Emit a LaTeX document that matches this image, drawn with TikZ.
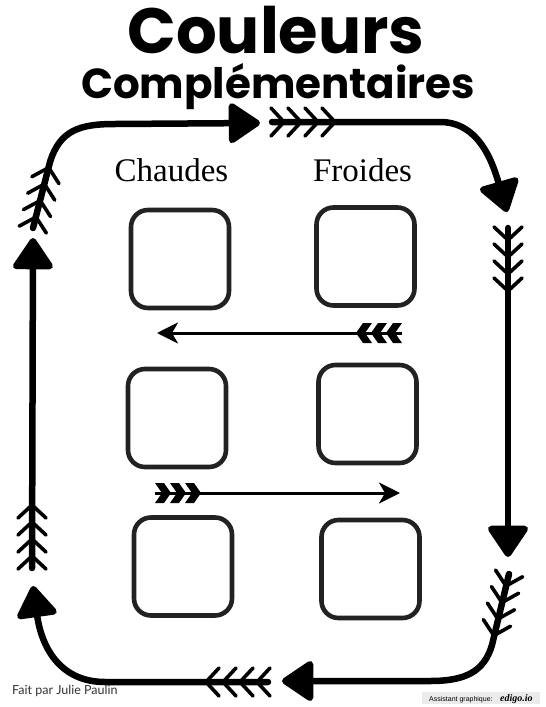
\documentclass[tikz,border=0pt]{standalone}
\usepackage{fontspec}
\setmainfont{Liberation Serif}
\newfontfamily\titlefont{Poppins}
\newfontfamily\latofont{Lato}
\newfontfamily\smallsans{Liberation Sans}
\usetikzlibrary{arrows.meta}
\definecolor{boxline}{HTML}{222222}
\definecolor{credit}{HTML}{333333}
\definecolor{badge}{HTML}{EBEBEB}
\tikzset{
  shaft/.style={line width=6.5pt, line cap=round, line join=round},
  bigtip/.style={-{Triangle[length=34pt,width=44pt,round]}},
  barb/.style={line width=3.6pt, line cap=round, line join=round},
  thinshaft/.style={line width=3pt},
  thintip/.style={-{Stealth[length=21pt,width=21pt,inset=6pt]}},
  cbox/.style={draw=boxline, line width=4.6pt, rounded corners=17pt, minimum width=98pt, minimum height=98pt, inner sep=0pt},
  fletch/.pic={
    \foreach \k in {0,1,2,3}{
      \draw[barb] ({\k*17-13},-14) -- ({\k*17},0) -- ({\k*17-13},14);
    }
  },
  chevrons/.pic={
    \foreach \k in {0,1,2}{
      \fill ({\k*15},-10) -- ({\k*15+9},-10) -- ({\k*15+16},0) -- ({\k*15+9},10) -- ({\k*15},10) -- ({\k*15+7},0) -- cycle;
    }
  }
}
\begin{document}
\begin{tikzpicture}[x=1pt,y=-1pt]
\useasboundingbox (0,0) rectangle (546,707);

% titles
\node[anchor=base, inner sep=0pt, text depth=0pt, font=\titlefont\bfseries\fontsize{64}{66}\selectfont] (t1) at (276,53) {Couleurs};
\node[anchor=base, inner sep=0pt, text height=30pt, font=\titlefont\bfseries\fontsize{42}{44}\selectfont] (t2) at (278,98) {Complémentaires};

\node[anchor=base, inner sep=0pt, font=\fontsize{33}{36}\selectfont] (chaudes) at (171.5,181) {Chaudes};
\node[anchor=base, inner sep=0pt, font=\fontsize{33}{36}\selectfont] (froides) at (362.5,181) {Froides};

% boxes
\node[cbox] (b1) at (180,259) {};
\node[cbox] (b2) at (365.5,256.5) {};
\node[cbox] (b3) at (177,418) {};
\node[cbox] (b4) at (367.5,414) {};
\node[cbox] (b5) at (183,566.5) {};
\node[cbox] (b6) at (370.5,569) {};

% inner arrows
\coordinate (ua) at (402,333);
\coordinate (ub) at (157,333);
\draw[thinshaft, thintip] (ua) -- (ub);
\pic[rotate=180] at (ua) {chevrons};
\coordinate (la) at (155,493);
\coordinate (lb) at (400,493);
\draw[thinshaft, thintip] (la) -- (lb);
\pic at (la) {chevrons};

% top-left arrow
\coordinate (tl0) at (33,228);
\coordinate (tl1) at (50,162);
\coordinate (tl2) at (115,124);
\coordinate (tl3) at (260,123);
\draw[shaft, bigtip] (tl0) -- (tl1) .. controls (60,130) and (80,124) .. (tl2) -- (tl3);
\pic[rotate=75.6] at (36,217) {fletch};

% top-right arrow
\coordinate (tr0) at (272,122);
\coordinate (tr1) at (440,122);
\coordinate (tr2) at (507,212);
\draw[shaft, bigtip] (tr0) -- (tr1) .. controls (478,122) and (492,160) .. (tr2);
\pic at (284,122) {fletch};

% right arrow
\coordinate (r0) at (508,228);
\coordinate (r1) at (508,557);
\draw[shaft, bigtip] (r0) -- (r1);
\pic[rotate=-90] at (508,240) {fletch};

% bottom-right arrow
\coordinate (br0) at (509,574);
\coordinate (br1) at (492,645);
\coordinate (br2) at (430,681);
\coordinate (br3) at (282,681);
\draw[shaft, bigtip] (br0) -- (br1) .. controls (484,672) and (465,681) .. (br2) -- (br3);
\pic[rotate=-103.8] at (506,586) {fletch};

% bottom-left arrow
\coordinate (bl0) at (268,682);
\coordinate (bl1) at (105,682);
\coordinate (bl2) at (33,586);
\draw[shaft, bigtip] (bl0) -- (bl1) .. controls (62,682) and (42,650) .. (bl2);
\pic[rotate=180] at (257,682) {fletch};

% left arrow
\coordinate (l0) at (32,568);
\coordinate (l1) at (33,238);
\draw[shaft, bigtip] (l0) -- (l1);
\pic[rotate=90] at (32,556) {fletch};

% credits
\node[anchor=base west, inner sep=0pt, text=credit, font=\latofont\fontsize{12.5}{14}\selectfont] (credit) at (12,694) {Fait par Julie Paulin};
\fill[badge] (422,692) rectangle (540,704);
\node[anchor=base west, inner sep=0pt, font=\smallsans\fontsize{7}{8}\selectfont] (assist) at (429,701) {Assistant graphique:};
\node[anchor=base west, inner sep=0pt, font=\itshape\bfseries\fontsize{10}{10}\selectfont] (edigo) at (500,701) {edigo.io};
\end{tikzpicture}
\end{document}
